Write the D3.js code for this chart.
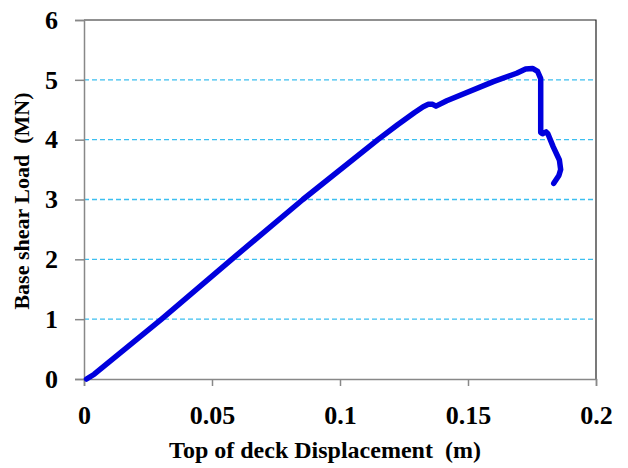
<!DOCTYPE html>
<html>
<head>
<meta charset="utf-8">
<script src="https://cdn.jsdelivr.net/npm/d3@7"></script>
<style>
  body { margin: 0; background: #fff; }
  svg text { font-family: "Liberation Serif", "Times New Roman", serif; font-weight: bold; }
</style>
</head>
<body>
<svg width="628" height="468"></svg>
<script>
// pushover curve
var displacement = [0.001, 0.004, 0.0303, 0.0577, 0.0855, 0.1148, 0.1225, 0.129, 0.1325, 0.1345, 0.1362, 0.1375, 0.1417, 0.1599, 0.169, 0.1725, 0.1752, 0.1772, 0.1784, 0.1784, 0.1791, 0.1805, 0.1812, 0.1833, 0.1857, 0.1862, 0.1855, 0.1835];
var baseShear = [0, 0.08, 1, 2, 3, 4, 4.25, 4.45, 4.55, 4.59, 4.59, 4.56, 4.65, 4.97, 5.11, 5.18, 5.19, 5.14, 5.02, 4.12, 4.1, 4.13, 4.1, 3.88, 3.66, 3.5, 3.4, 3.27];
var xTicks = [0, 0.05, 0.1, 0.15, 0.2];
var yTicks = [0, 1, 2, 3, 4, 5, 6];

var svg = d3.select("svg");
var mLeft = 84, mRight = 596, mTop = 20, mBottom = 379;

var x = d3.scaleLinear().domain([0, 0.2]).range([mLeft, mRight]);
var y = d3.scaleLinear().domain([0, 6]).range([mBottom, mTop]);

// dashed grid lines
svg.append("g")
    .selectAll("line")
    .data(yTicks.filter(d => d > 0 && d < 6))
    .join("line")
    .attr("x1", mLeft).attr("x2", mRight)
    .attr("y1", d => y(d)).attr("y2", d => y(d))
    .attr("stroke", "#3cbff0")
    .attr("stroke-width", 1.3)
    .attr("stroke-dasharray", "5,3");

// top and right border
svg.append("path")
    .attr("d", "M" + mLeft + "," + mTop + "H" + mRight + "V" + mBottom)
    .attr("fill", "none")
    .attr("stroke", "#222")
    .attr("stroke-width", 1.2);

var xAxis = svg.append("g")
    .attr("transform", "translate(0," + mBottom + ")")
    .call(d3.axisBottom(x).tickValues(xTicks).tickSize(7).tickPadding(20)
        .tickFormat(d => d === 0 ? "0" : String(d)));

var yAxis = svg.append("g")
    .attr("transform", "translate(" + mLeft + ",0)")
    .call(d3.axisLeft(y).tickValues(yTicks).tickSize(9).tickPadding(17)
        .tickFormat(d3.format("d")));

[xAxis, yAxis].forEach(function(g) {
    g.attr("font-family", null).attr("font-size", null);
    g.select(".domain").attr("stroke", "#888").attr("stroke-width", 1.5);
    g.selectAll(".tick line").attr("stroke", "#888").attr("stroke-width", 1.5);
    g.selectAll(".tick text")
        .attr("fill", "#000")
        .style("font-size", "26px");
});

var pts = displacement.map((d, i) => [d, baseShear[i]]);
svg.append("path")
    .datum(pts)
    .attr("fill", "none")
    .attr("stroke", "#0000dd")
    .attr("stroke-width", 5.5)
    .attr("stroke-linejoin", "round")
    .attr("stroke-linecap", "round")
    .attr("d", d3.line().x(d => x(d[0])).y(d => y(d[1])));

svg.append("text")
    .attr("x", 325).attr("y", 458)
    .attr("text-anchor", "middle")
    .style("font-size", "24px")
    .attr("xml:space", "preserve")
    .text("Top of deck Displacement  (m)");

svg.append("text")
    .attr("transform", "translate(29,201) rotate(-90)")
    .attr("text-anchor", "middle")
    .style("font-size", "22px")
    .attr("xml:space", "preserve")
    .text("Base shear Load  (MN)");
</script>
</body>
</html>
